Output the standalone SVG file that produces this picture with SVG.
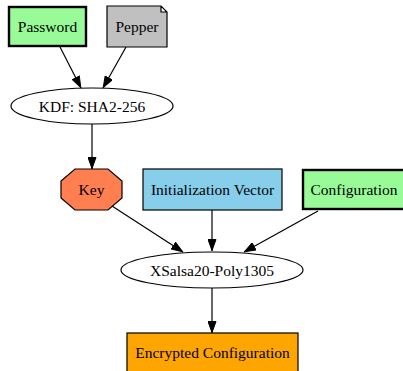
<svg xmlns="http://www.w3.org/2000/svg" width="403" height="371" viewBox="0 0 403 371">
<style>
text{font-family:"Liberation Serif","Times New Roman",serif;font-size:15.5px;fill:#000;text-anchor:middle;dominant-baseline:central}
.n{stroke:#000;stroke-width:1.2}
.thick{stroke-width:2.4}
.e{stroke:#000;stroke-width:1.2;fill:none;marker-end:url(#ah)}
</style>
<defs>
<marker id="ah" viewBox="0 0 12 9" refX="12" refY="4.5" markerWidth="12" markerHeight="9" markerUnits="userSpaceOnUse" orient="auto">
<path d="M0.5,0.5 L11.5,4.5 L0.5,8.5 z" fill="#000" stroke="#000"/>
</marker>
</defs>
<rect width="403" height="371" fill="#fff"/>
<g id="edges">
<line class="e" x1="60" y1="47" x2="81" y2="88"/>
<line class="e" x1="126" y1="47" x2="103" y2="88"/>
<line class="e" x1="92" y1="124" x2="92" y2="169"/>
<line class="e" x1="112" y1="206" x2="183" y2="252"/>
<line class="e" x1="212" y1="210" x2="212" y2="251"/>
<line class="e" x1="318" y1="211" x2="244" y2="252"/>
<line class="e" x1="212" y1="288" x2="212" y2="333"/>
</g>
<g id="password">
<rect class="n thick" x="9" y="7" width="77" height="39" fill="#98fb98"/>
<text x="47.5" y="26.5">Password</text>
</g>
<g id="pepper">
<path class="n" d="M107,6 H161 L167,12 V47 H107 Z M161,6 V12 H167" fill="#c0c0c0"/>
<text x="137" y="26.5">Pepper</text>
</g>
<g id="kdf">
<ellipse class="n" cx="92" cy="106" rx="81" ry="18" fill="#fff"/>
<text x="92" y="106">KDF: SHA2-256</text>
</g>
<g id="key">
<polygon class="n" points="75,169 108,169 122,181 122,198 108,210 75,210 61,198 61,181" fill="#ff7f50"/>
<text x="91.5" y="189.5">Key</text>
</g>
<g id="iv">
<rect class="n" x="143" y="169" width="139" height="41" fill="#87ceeb"/>
<text x="212.5" y="189.5">Initialization Vector</text>
</g>
<g id="configuration">
<rect class="n thick" x="303" y="170" width="102" height="39" fill="#98fb98"/>
<text x="354" y="189.5">Configuration</text>
</g>
<g id="xsalsa">
<ellipse class="n" cx="212" cy="270" rx="91" ry="18" fill="#fff"/>
<text x="212" y="270">XSalsa20-Poly1305</text>
</g>
<g id="encrypted">
<rect class="n" x="127" y="333" width="171" height="42" fill="#ffa500"/>
<text x="212.5" y="352">Encrypted Configuration</text>
</g>
</svg>
